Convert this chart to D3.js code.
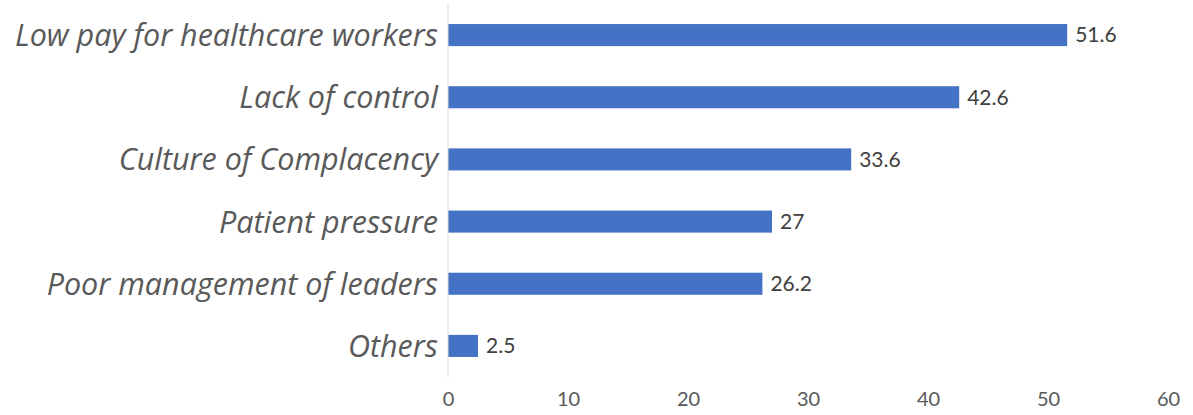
<!DOCTYPE html>
<html>
<head>
<meta charset="utf-8">
<script src="https://cdn.jsdelivr.net/npm/d3@7"></script>
<style>
  body { margin: 0; background: #fff; }
  .cat { font-family: "Open Sans", sans-serif; font-style: italic; fill: #595959; }
  .val { font-family: Lato, sans-serif; fill: #404040; }
  .tick text { font-family: Lato, sans-serif; fill: #595959; }
</style>
</head>
<body>
<script>
var categories = ["Low pay for healthcare workers", "Lack of control", "Culture of Complacency",
                  "Patient pressure", "Poor management of leaders", "Others"];
var values = [51.6, 42.6, 33.6, 27, 26.2, 2.5];
var tickValues = [0, 10, 20, 30, 40, 50, 60];

var width = 1193, height = 415;

var svg = d3.select("body").append("svg")
    .attr("width", width)
    .attr("height", height);

var x = d3.scaleLinear().domain([0, 60]).range([448, 1168]);
var y = d3.scaleBand().domain(categories).range([4, 377])
    .paddingInner(0.645).paddingOuter(0.3225);

// bars
svg.selectAll(".bar")
    .data(values)
    .enter()
    .append("rect")
    .attr("class", "bar")
    .attr("x", x(0))
    .attr("y", function (d, i) { return y(categories[i]); })
    .attr("width", function (d) { return x(d) - x(0); })
    .attr("height", y.bandwidth())
    .attr("fill", "#4472C4");

// value labels
svg.selectAll(".val")
    .data(values)
    .enter()
    .append("text")
    .attr("class", "val")
    .attr("x", function (d) { return x(d) + 8; })
    .attr("y", function (d, i) { return y(categories[i]) + y.bandwidth() / 2; })
    .attr("dy", "0.35em")
    .style("font-size", "21px")
    .text(function (d) { return d; });

// category labels
svg.selectAll(".cat")
    .data(categories)
    .enter()
    .append("text")
    .attr("class", "cat")
    .attr("x", 438)
    .attr("y", function (d) { return y(d) + y.bandwidth() / 2; })
    .attr("dy", "0.36em")
    .attr("text-anchor", "end")
    .style("font-size", "30.5px")
    .text(function (d) { return d; });

// vertical axis line
svg.append("line")
    .attr("x1", x(0)).attr("x2", x(0))
    .attr("y1", 4).attr("y2", 377)
    .attr("stroke", "#d9d9d9")
    .attr("stroke-width", 1);

// x axis (labels only)
var xAxis = svg.append("g")
    .attr("transform", "translate(0,386)")
    .call(d3.axisBottom(x).tickValues(tickValues).tickSize(0).tickPadding(6));
xAxis.select(".domain").remove();
xAxis.selectAll(".tick text").style("font-size", "20px");
</script>
</body>
</html>
